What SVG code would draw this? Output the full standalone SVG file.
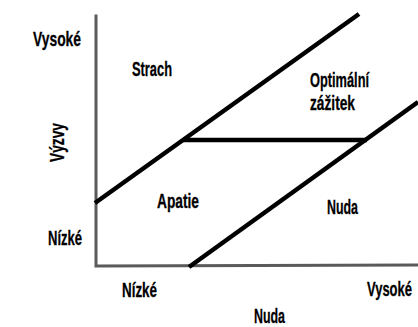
<svg xmlns="http://www.w3.org/2000/svg" width="418" height="327" viewBox="0 0 418 327">
<style>
.t{font-family:"Liberation Sans","DejaVu Sans Condensed",sans-serif;font-weight:bold;font-size:21px;fill:#000;stroke:#000;stroke-width:0.3}
.ax{stroke:#5a5a5a;stroke-width:3;fill:none;stroke-linecap:square}
.ln{stroke:#000;stroke-width:4.5;fill:none;stroke-linecap:butt}
</style>
<rect width="418" height="327" fill="#fff"/>
<g id="axes">
<path class="ax" d="M96,16 L96,266 L418,265"/>
</g>
<g id="connectors">
<line class="ln" x1="95" y1="203" x2="359" y2="14"/>
<line class="ln" x1="183" y1="140" x2="367" y2="140"/>
<line class="ln" x1="189" y1="267" x2="418" y2="102"/>
</g>
<g id="labels">
<text class="t" x="33" y="46" textLength="48" lengthAdjust="spacingAndGlyphs">Vysoké</text>
<text class="t" x="48" y="245" textLength="34" lengthAdjust="spacingAndGlyphs">Nízké</text>
<text class="t" x="64" y="162" transform="rotate(-90 64 162)" textLength="39" lengthAdjust="spacingAndGlyphs">Výzvy</text>
<text class="t" x="122" y="297" textLength="35" lengthAdjust="spacingAndGlyphs">Nízké</text>
<text class="t" x="0" y="0" transform="translate(367,296) scale(0.612,1)" textLength="73.5" lengthAdjust="spacingAndGlyphs">Vysoké</text>
<text class="t" x="254" y="323" textLength="31" lengthAdjust="spacingAndGlyphs">Nuda</text>
</g>
<g id="strach"><text class="t" x="132" y="76" textLength="40" lengthAdjust="spacingAndGlyphs">Strach</text></g>
<g id="optimalni"><text class="t" x="310" y="87" textLength="59" lengthAdjust="spacingAndGlyphs">Optimální</text><text class="t" x="310" y="110" textLength="45" lengthAdjust="spacingAndGlyphs">zážitek</text></g>
<g id="apatie"><text class="t" x="157" y="208" textLength="42" lengthAdjust="spacingAndGlyphs">Apatie</text></g>
<g id="nuda"><text class="t" x="327" y="214" textLength="31" lengthAdjust="spacingAndGlyphs">Nuda</text></g>
</svg>
